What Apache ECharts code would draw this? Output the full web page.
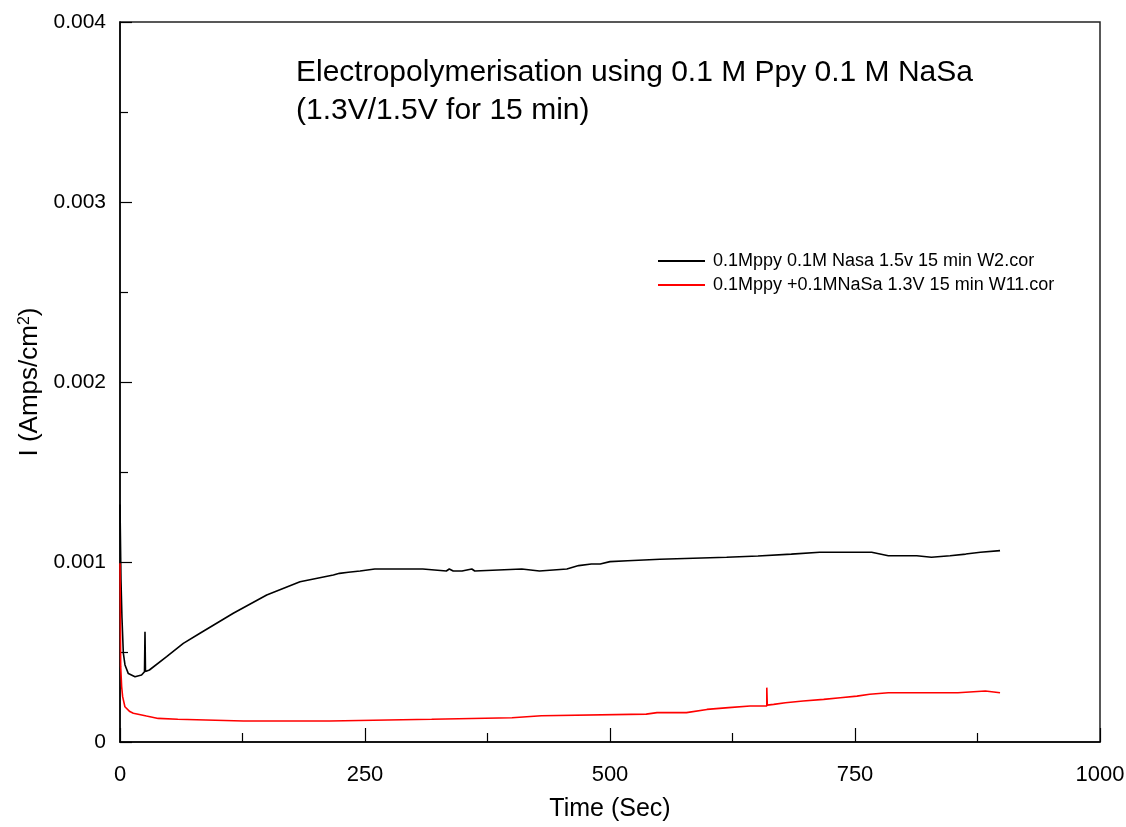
<!DOCTYPE html>
<html>
<head>
<meta charset="utf-8">
<script src="https://cdn.jsdelivr.net/npm/echarts@6/dist/echarts.min.js"></script>
<style>
  html, body { margin: 0; padding: 0; background: #fff; }
  #chart { width: 1126px; height: 827px; }
</style>
</head>
<body>
<div id="chart"></div>
<script>
// Current transients recorded during potentiostatic electropolymerisation
const titleLines = ['Electropolymerisation using 0.1 M Ppy 0.1 M NaSa', '(1.3V/1.5V for 15 min)'];
const seriesNames = ['0.1Mppy 0.1M Nasa 1.5v 15 min W2.cor', '0.1Mppy +0.1MNaSa 1.3V 15 min W11.cor'];
const xTicks = [0, 250, 500, 750, 1000];
const yTicks = [0, 0.001, 0.002, 0.003, 0.004];

// time (s), current density (A/cm2) at 1.5 V
const black15V = [
  [0, 0.00132], [1, 0.00090], [2, 0.00069], [3.4, 0.000494], [5.1, 0.000428],
  [8.5, 0.00038], [15.3, 0.000363], [22, 0.000372], [25, 0.00039], [25.5, 0.000613],
  [26, 0.000392], [30, 0.00040], [47.6, 0.000474], [64.6, 0.000548], [81.6, 0.000604],
  [115.6, 0.000715], [149.7, 0.000817], [183.7, 0.00089], [217.7, 0.000928],
  [224, 0.000937], [233, 0.000943], [245, 0.00095], [260, 0.000961], [309, 0.000961],
  [309, 0.00095], [333, 0.00095], [336, 0.000961], [340, 0.00095], [349, 0.00095],
  [349, 0.000961], [359, 0.000961], [359, 0.00095], [362, 0.00095], [362, 0.000961],
  [410, 0.000961], [410, 0.00095], [428, 0.00095], [428, 0.000961], [456, 0.000961],
  [456, 0.00097], [468, 0.00098], [481, 0.000989], [490, 0.000989], [500, 0.001002],
  [518, 0.001007], [551, 0.001015], [619, 0.001026], [651, 0.001033], [685, 0.001044],
  [714, 0.001054], [767, 0.001054], [768, 0.001044], [784, 0.001035], [813, 0.001035],
  [814, 0.001026], [828, 0.001026], [830, 0.001035], [847, 0.001035], [848, 0.001044],
  [863, 0.001044], [863, 0.001054], [878, 0.001054], [879, 0.001063], [898, 0.001063]
];

// time (s), current density (A/cm2) at 1.3 V
const red13V = [
  [0, 0.000993], [0.7, 0.00042], [1.7, 0.000307], [2.7, 0.000252], [5, 0.000196],
  [10, 0.000169], [13.6, 0.00016], [27, 0.000144], [39, 0.000131], [59, 0.000126],
  [126, 0.000117], [214, 0.000117], [215, 0.000126], [318, 0.000126], [319, 0.000135],
  [400, 0.000135], [400, 0.000146], [430, 0.000146], [431, 0.000155], [537, 0.000155],
  [548, 0.000163], [578, 0.000163], [579, 0.000172], [599, 0.000181], [621, 0.000191],
  [643, 0.0002], [660, 0.0002], [660, 0.000302], [660.5, 0.000205], [667, 0.000209],
  [679, 0.000218], [697, 0.000228], [718, 0.000237], [735, 0.000246], [752, 0.000255],
  [765, 0.000265], [784, 0.000274], [855, 0.000274], [855, 0.000283], [883, 0.000283],
  [883, 0.000274], [898, 0.000274]
];

const FONT = '"Liberation Sans", Arial, sans-serif';

const chart = echarts.init(document.getElementById('chart'), null, { renderer: 'canvas' });

chart.setOption({
  backgroundColor: '#ffffff',
  animation: false,
  title: {
    text: titleLines.join('\n'),
    left: 291,
    top: 49,
    textStyle: { fontFamily: FONT, fontSize: 30, fontWeight: 'normal', color: '#000', lineHeight: 38 }
  },
  legend: {
    orient: 'vertical',
    left: 653,
    top: 247,
    icon: 'rect',
    itemWidth: 47,
    itemHeight: 2,
    itemGap: 6,
    data: seriesNames,
    textStyle: { fontFamily: FONT, fontSize: 18, color: '#000', padding: [0, 0, 0, 3] }
  },
  grid: {
    left: 120, right: 26, top: 22, bottom: 85,
    outerBoundsMode: 'none',
    containLabel: false,
    show: true, borderColor: '#222', borderWidth: 1.5, backgroundColor: 'transparent'
  },
  xAxis: {
    type: 'value',
    min: xTicks[0], max: xTicks[xTicks.length - 1], interval: 250,
    name: 'Time (Sec)', nameLocation: 'middle', nameGap: 55,
    nameTextStyle: { fontFamily: FONT, fontSize: 25, color: '#000' },
    axisLine: { lineStyle: { color: '#000', width: 1.5 } },
    axisTick: { inside: true, length: 14, lineStyle: { color: '#000', width: 1.2 } },
    minorTick: { show: true, splitNumber: 2, length: 9, lineStyle: { color: '#000', width: 1.2 } },
    axisLabel: { margin: 22, fontFamily: FONT, fontSize: 22, color: '#000', formatter: v => String(v) },
    splitLine: { show: false }
  },
  yAxis: {
    type: 'value',
    min: yTicks[0], max: yTicks[yTicks.length - 1], interval: 0.001,
    name: 'I (Amps/cm{sup|2})', nameLocation: 'middle', nameGap: 74,
    nameTextStyle: {
      fontFamily: FONT, fontSize: 26, color: '#000',
      rich: { sup: { fontFamily: FONT, fontSize: 16, verticalAlign: 'top', padding: [0, 0, 10, 0] } }
    },
    axisLine: { lineStyle: { color: '#000', width: 1.5 } },
    axisTick: { inside: true, length: 12, lineStyle: { color: '#000', width: 1.2 } },
    minorTick: { show: true, splitNumber: 2, length: 8, lineStyle: { color: '#000', width: 1.2 } },
    axisLabel: {
      margin: 14, fontFamily: FONT, fontSize: 21, color: '#000',
      formatter: v => (v === 0 ? '0' : v.toFixed(3))
    },
    splitLine: { show: false }
  },
  series: [
    {
      name: seriesNames[0], type: 'line', data: black15V,
      symbol: 'none', color: '#000000',
      lineStyle: { color: '#000000', width: 1.6 }
    },
    {
      name: seriesNames[1], type: 'line', data: red13V,
      symbol: 'none', color: '#ff0000',
      lineStyle: { color: '#ff0000', width: 1.6 }
    }
  ]
});
</script>
</body>
</html>
